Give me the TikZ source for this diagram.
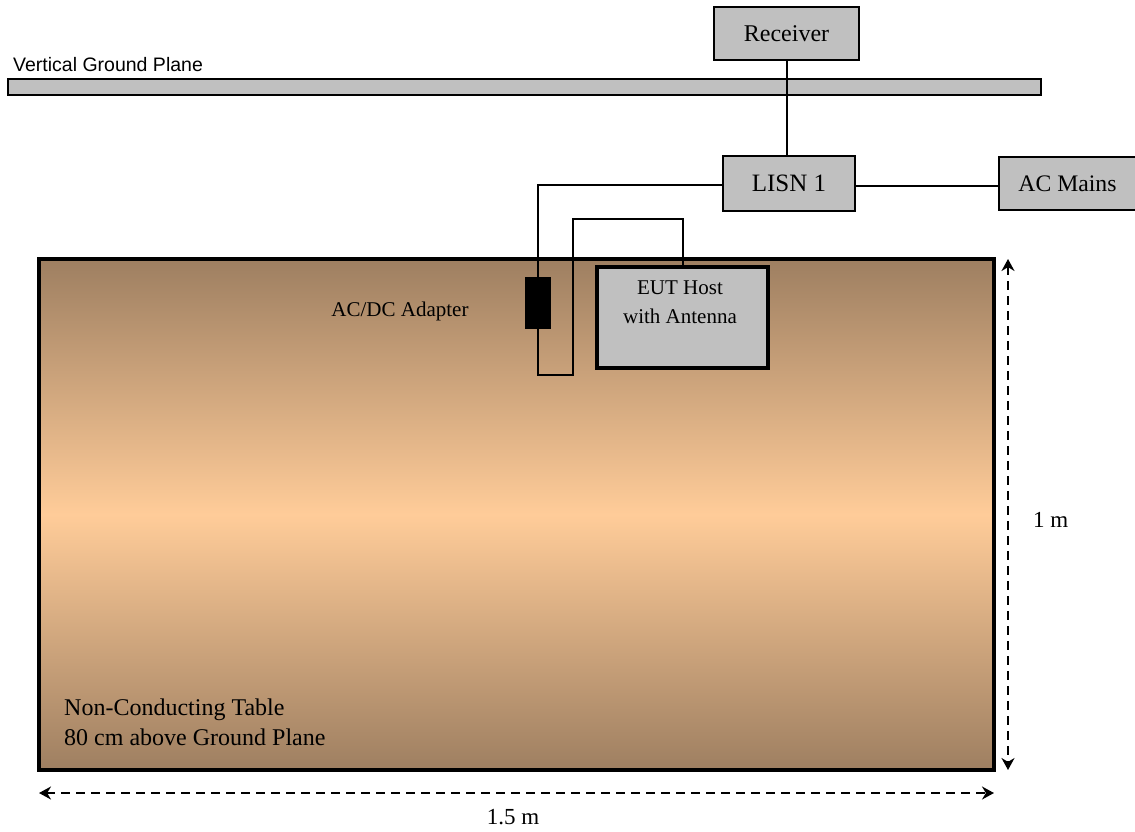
\documentclass[tikz,border=0pt]{standalone}
\usepackage{fontspec}
\setmainfont{Liberation Serif}
\newfontfamily\gpfont{Liberation Sans}
\usetikzlibrary{arrows.meta}
\definecolor{boxgray}{RGB}{192,192,192}
\definecolor{tablebrown}{RGB}{158,127,97}
\definecolor{tablepeach}{RGB}{255,204,153}
\tikzset{
  graybox/.style={draw=black, line width=2pt, fill=boxgray, inner sep=0pt, align=center},
  wire/.style={draw=black, line width=2pt},
  dimline/.style={draw=black, line width=2pt, dash pattern=on 9pt off 6pt,
    {Stealth[length=12pt,width=13pt]}-{Stealth[length=12pt,width=13pt]}},
  lbl/.style={inner sep=0pt, align=left},
}
\begin{document}
\begin{tikzpicture}[x=1pt,y=-1pt]
\useasboundingbox (0,0) rectangle (1135,831);
% table
\shade[top color=tablebrown, bottom color=tablebrown, middle color=tablepeach]
  (39,259) rectangle (994,770);
\node[draw=black, line width=3.5pt, minimum width=955pt, minimum height=511pt, inner sep=0pt] (table) at (516.5,514.5) {};
% ground plane
\node[draw=black, line width=2pt, fill=boxgray, minimum width=1033pt, minimum height=16pt, inner sep=0pt] (gp) at (524.5,87) {};
\node[lbl, anchor=base west, font=\gpfont\fontsize{19.5}{22}\selectfont] (gplabel) at (13,71) {Vertical Ground Plane};
% boxes
\node[graybox, minimum width=145pt, minimum height=53pt, font=\fontsize{24}{28}\selectfont] (rec) at (786.5,33.5) {Receiver};
\node[graybox, minimum width=132pt, minimum height=55pt, font=\fontsize{25}{29}\selectfont] (lisn) at (789,183.5) {LISN 1};
\node[graybox, minimum width=137pt, minimum height=53pt, font=\fontsize{23.7}{28}\selectfont] (acm) at (1067.5,183.5) {AC Mains};
\node[draw=black, line width=3.5pt, fill=boxgray, minimum width=171pt, minimum height=101pt, inner sep=0pt] (eut) at (682.5,317.5) {};
\node[lbl, align=center, font=\fontsize{21}{29}\selectfont, anchor=north] (euttext) at (680,281) {EUT Host\\with Antenna};
\node[draw=black, fill=black, minimum width=25pt, minimum height=51pt, inner sep=0pt] (adp) at (537.5,302.5) {};
\node[lbl, font=\fontsize{21}{25}\selectfont] (adplabel) at (400,311) {AC/DC Adapter};
% wires
\draw[wire] (rec.south) -- (rec.south |- lisn.north);
\draw[wire] (lisn.east |- 0,186) -- (acm.west |- 0,186);
\draw[wire] (lisn.west |- 0,185) -| (adp.north);
\coordinate (b1) at (537.5,375);
\coordinate (b2) at (573,375);
\coordinate (b3) at (573,219);
\coordinate (b4) at (682.5,219);
\draw[wire] (adp.south) -- (b1) -- (b2) -- (b3) -- (b4) -- (eut.north);
% dimension arrows
\coordinate (vtop) at (1008,259);
\coordinate (vbot) at (1008,770);
\coordinate (hl) at (39,793);
\coordinate (hr) at (994,793);
\draw[dimline] (vtop) -- (vbot);
\draw[dimline] (hl) -- (hr);
\node[lbl, anchor=west, font=\fontsize{23}{27}\selectfont] (onem) at (1033,520) {1 m};
\node[lbl, font=\fontsize{23}{27}\selectfont] (onefive) at (513,817) {1.5 m};
\node[lbl, anchor=north west, font=\fontsize{24}{30}\selectfont] (tabletext) at (64,699) {Non-Conducting Table\\80 cm above Ground Plane};
\end{tikzpicture}
\end{document}
